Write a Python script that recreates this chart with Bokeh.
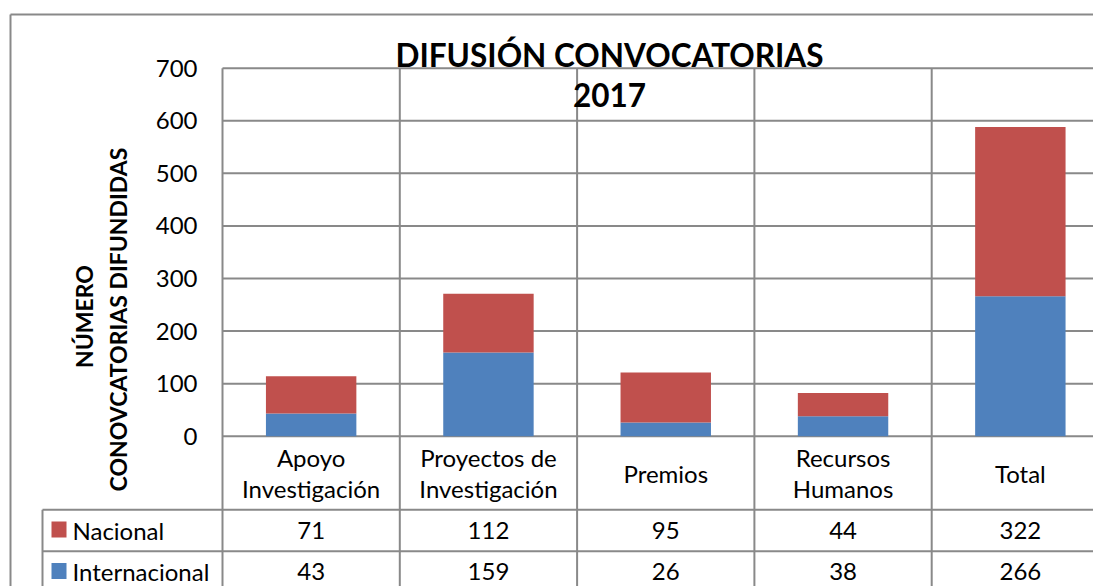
import math
from bokeh.plotting import figure
from bokeh.models import Range1d
from bokeh.core.properties import value
from bokeh.embed import file_html
from bokeh.resources import INLINE

# ---------------- data ----------------
categories = ["Apoyo\nInvestigación", "Proyectos de\nInvestigación", "Premios",
              "Recursos\nHumanos", "Total"]
nacional = [71, 112, 95, 44, 322]
internacional = [43, 159, 26, 38, 266]
series_names = ["Nacional", "Internacional"]
y_ticks = [0, 100, 200, 300, 400, 500, 600, 700]
title_lines = ["DIFUSIÓN CONVOCATORIAS", "2017"]
y_title_lines = ["NÚMERO", "CONOVCATORIAS DIFUNDIDAS"]

# ---------------- layout (window pixels) ----------------
W, H = 1093, 586
ORIGIN = 0
PLOT_LEFT = 222.0
CAT_W = 177.3
ZERO_Y = 435.7
PPU = 0.5257          # pixels per value unit
HEADER_BOTTOM = 509.3
ROW_H = 41.4
TABLE_LEFT = 42.0

FONT = value("Lato")
RED = "#C0504D"
BLUE = "#4F81BD"
GRID = "#898989"


def X(wx):
    return (wx - PLOT_LEFT) / CAT_W


def Y(wy):
    return (ZERO_Y - wy) / PPU


p = figure(width=W, height=H, output_backend="svg", toolbar_location=None,
           x_range=Range1d(X(ORIGIN), X(ORIGIN + W)),
           y_range=Range1d(Y(ORIGIN + H), Y(ORIGIN)),
           x_axis_type=None, y_axis_type=None, min_border=0)
p.outline_line_color = None
p.background_fill_color = "white"
p.border_fill_color = "white"

n = len(categories)
xs = [i + 0.5 for i in range(n)]
right_end = X(1200)
bottom_end = Y(700)

# outer chart border
p.segment(x0=[X(10), X(10)], y0=[Y(14), Y(14)], x1=[X(10), right_end], y1=[bottom_end, Y(14)],
          line_color=GRID, line_width=2)

# horizontal gridlines
p.segment(x0=[0] * len(y_ticks), y0=y_ticks, x1=[right_end] * len(y_ticks), y1=y_ticks,
          line_color=GRID, line_width=2)
# vertical gridlines / table columns
vb = list(range(n + 1))
p.segment(x0=vb, y0=[max(y_ticks)] * len(vb), x1=vb, y1=[bottom_end] * len(vb),
          line_color=GRID, line_width=2)
# table row lines
row_lines = [HEADER_BOTTOM, HEADER_BOTTOM + ROW_H]
p.segment(x0=[X(TABLE_LEFT)] * 2, y0=[Y(r) for r in row_lines], x1=[right_end] * 2,
          y1=[Y(r) for r in row_lines], line_color=GRID, line_width=2)
p.segment(x0=[X(TABLE_LEFT)], y0=[Y(HEADER_BOTTOM)], x1=[X(TABLE_LEFT)], y1=[bottom_end],
          line_color=GRID, line_width=2)

# stacked bars
tops_int = internacional
tops_nac = [a + b for a, b in zip(internacional, nacional)]
p.vbar(x=xs, width=0.51, bottom=0, top=tops_int, fill_color=BLUE, line_color=None)
p.vbar(x=xs, width=0.51, bottom=tops_int, top=tops_nac, fill_color=RED, line_color=None)

# y tick labels
p.text(x=[X(197)] * len(y_ticks), y=y_ticks,
       text=[str(t) for t in y_ticks], text_align="right", text_baseline="middle",
       text_font=FONT, text_font_size="24px", text_color="black")

# category labels (header row)
hc = (ZERO_Y + HEADER_BOTTOM) / 2
cx, cy, ct = [], [], []
for i, cat in enumerate(categories):
    lines = cat.split("\n")
    m = len(lines)
    for k, line in enumerate(lines):
        cx.append(xs[i])
        cy.append(Y(hc + (k - (m - 1) / 2) * 30.7))
        ct.append(line)
p.text(x=cx, y=cy, text=ct, text_align="center", text_baseline="middle",
       text_font=FONT, text_font_size="24px", text_color="black")

# table rows
row_centers = [HEADER_BOTTOM + ROW_H / 2, HEADER_BOTTOM + ROW_H * 1.5]
row_series = [nacional, internacional]
row_colors = [RED, BLUE]
for r, (vals, col, name) in enumerate(zip(row_series, row_colors, series_names)):
    rc = row_centers[r]
    p.text(x=xs, y=[Y(rc)] * n, text=[str(v) for v in vals], text_align="center",
           text_baseline="middle", text_font=FONT, text_font_size="24px",
           text_color="black")
    p.rect(x=[X(58.5)], y=[Y(rc - 1)], width=15, height=16, width_units="screen",
           height_units="screen", fill_color=col, line_color=None)
    p.text(x=[X(72)], y=[Y(rc)], text=[name], text_align="left",
           text_baseline="middle", text_font=FONT, text_font_size="24px",
           text_color="black")

# title
p.text(x=[X(609)] * 2, y=[Y(54), Y(94)], text=title_lines, text_align="center",
       text_baseline="middle", text_font=FONT, text_font_size="31.5px",
       text_font_style="bold", text_color="black")

# y axis title (rotated)
p.text(x=[X(83), X(117)], y=[Y(316), Y(319)], text=y_title_lines, angle=math.pi / 2,
       text_align="center", text_baseline="middle", text_font=FONT,
       text_font_size="23px", text_font_style="bold", text_color="black")

open("out.html", "w").write(file_html(p, INLINE))
